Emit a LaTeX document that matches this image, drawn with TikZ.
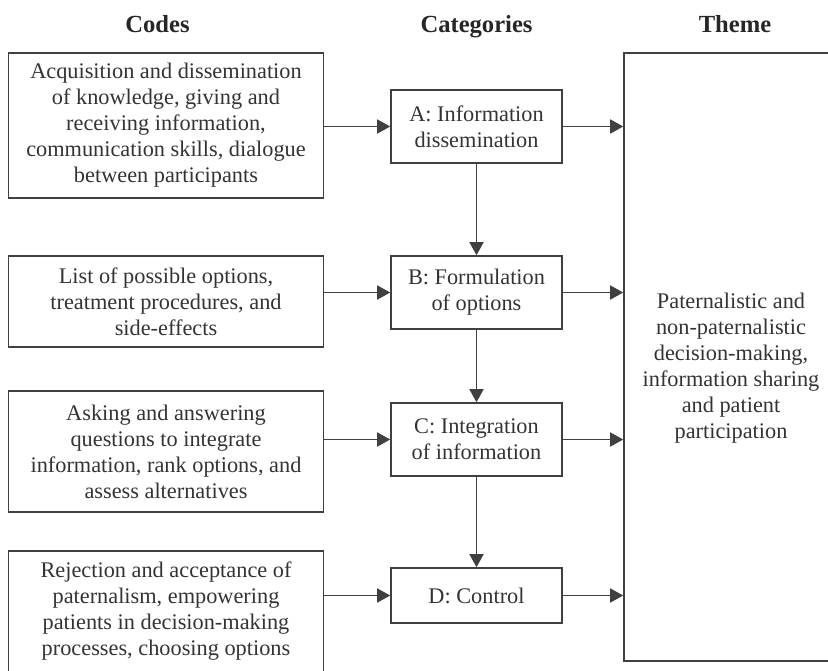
\documentclass[tikz,border=0pt]{standalone}
\usepackage{fontspec}
\setmainfont{Liberation Serif}
\usetikzlibrary{arrows.meta}

\tikzset{
    codebox/.style={draw=black!75, line width=0.9pt, align=center, inner sep=0pt,
        minimum width=6.3cm, text=black!80, font=\fontsize{12.7}{14.8}\selectfont},
    catbox/.style={codebox, minimum width=3.42cm, minimum height=1.46cm},
    heading/.style={anchor=base, font=\fontsize{14}{16}\selectfont\bfseries, text=black!85},
    arr/.style={-{Triangle[length=0.26cm,width=0.28cm]}, line width=0.9pt, draw=black!75}
}

\begin{document}
\begin{tikzpicture}[x=0.02cm, y=-0.02cm]
        \useasboundingbox (0,0) rectangle (828,670);

        % Column headings
        \node[heading] (hcodes) at (157.5,32) {Codes};
        \node[heading] (hcats) at (476.5,32) {Categories};
        \node[heading] (htheme) at (735,32) {Theme};

        % Codes
        \node[codebox, minimum height=2.9cm] (c1) at (166,125.5)
            {Acquisition and dissemination\\ of knowledge, giving and\\ receiving information,\\ communication skills, dialogue\\ between participants};
        \node[codebox, minimum height=1.82cm] (c2) at (166,301.5)
            {List of possible options,\\ treatment procedures, and\\ side-effects};
        \node[codebox, minimum height=2.42cm] (c3) at (166,451.5)
            {Asking and answering\\ questions to integrate\\ information, rank options, and\\ assess alternatives};
        \node[codebox, minimum height=2.42cm] (c4) at (166,611.5)
            {Rejection and acceptance of\\ paternalism, empowering\\ patients in decision-making\\ processes, choosing options};

        % Categories
        \node[catbox] (catA) at (476.5,126.5) {A: Information\\ dissemination};
        \node[catbox] (catB) at (476.5,292.5) {B: Formulation\\ of options};
        \node[catbox] (catC) at (476.5,439.5) {C: Integration\\ of information};
        \node[catbox, minimum height=1.1cm] (catD) at (476.5,595.5) {D: Control};

        % Theme
        \node[codebox, minimum width=4.28cm, minimum height=12.16cm] (theme) at (731,357) {};
        \node[codebox, draw=none] (themetext) at ([yshift=-0.22cm]theme.center)
            {Paternalistic and\\ non-paternalistic\\ decision-making,\\ information sharing\\ and patient\\ participation};

        % Codes to categories, categories to theme
        \foreach \c/\k in {c1/catA, c2/catB, c3/catC, c4/catD} {
            \draw[arr] (\c.east |- \k.west) -- (\k.west);
            \draw[arr] (\k.east) -- (theme.west |- \k.east);
        }

        % Category chain
        \draw[arr] (catA.south) -- (catB.north);
        \draw[arr] (catB.south) -- (catC.north);
        \draw[arr] (catC.south) -- (catD.north);

    \end{tikzpicture}
\end{document}
